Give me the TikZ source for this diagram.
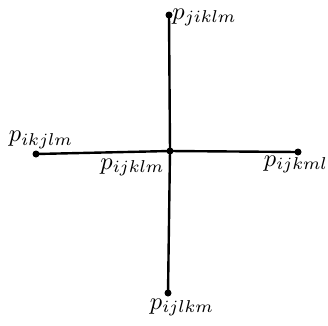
\documentclass[tikz,border=0pt]{standalone}
\begin{document}
\begin{tikzpicture}[x=1pt,y=-1pt,
  dot/.style={circle,fill=black,inner sep=0pt,minimum size=7pt},
  lbl/.style={inner sep=0.4pt,scale=2.45,transform shape},
  edge/.style={line width=2.4pt}]
\useasboundingbox (0,0) rectangle (328,325);
\node[dot] (c) at (170,151) {};
\node[dot] (t) at (169,15) {};
\node[dot] (b) at (168,293) {};
\node[dot] (l) at (36,154) {};
\node[dot] (r) at (298,152) {};
\draw[edge] (t.center) -- (c.center) -- (b.center);
\draw[edge] (l.center) -- (c.center) -- (r.center);
\node[lbl,anchor=west] (tl) at (171,17.5) {$p_{jiklm}$};
\node[lbl,anchor=south] (ll) at (41,150) {$p_{ikjlm}$};
\node[lbl,anchor=north east] (cl) at (166,157) {$p_{ijklm}$};
\node[lbl,anchor=north] (rl) at (296,154) {$p_{ijkml}$};
\node[lbl,anchor=north] (bl) at (182,297) {$p_{ijlkm}$};
\end{tikzpicture}
\end{document}
